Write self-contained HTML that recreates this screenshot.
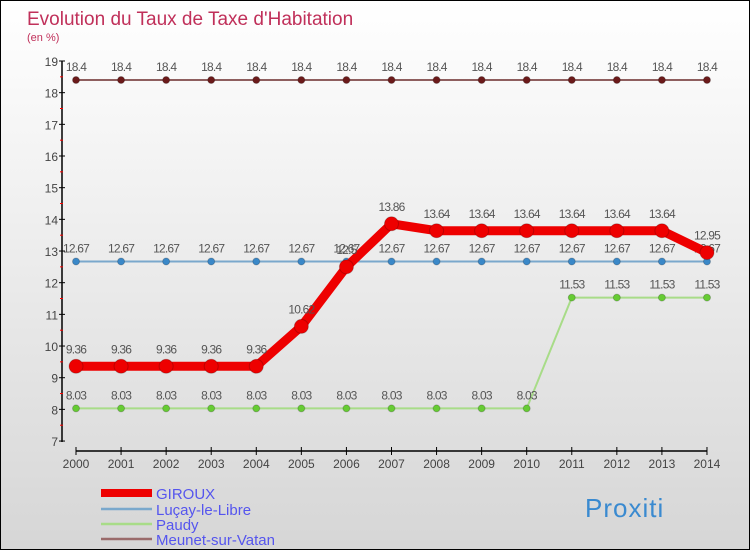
<!DOCTYPE html>
<html><head><meta charset="utf-8"><style>
body{margin:0}
#c{width:748px;height:548px;border:1px solid #000;background:linear-gradient(#fff,#f3f3f3 30%,#d6d6d6);position:relative;font-family:"Liberation Sans",sans-serif}
</style></head><body>
<div id="c">
<svg id="s" width="748" height="548" style="position:absolute;left:0;top:0">
<text x="26" y="24" font-size="19" fill="#c0305a">Evolution du Taux de Taxe d'Habitation</text>
<text x="26" y="40" font-size="11" fill="#c0305a">(en %)</text>
</svg></div>
<script>
const years=[2000,2001,2002,2003,2004,2005,2006,2007,2008,2009,2010,2011,2012,2013,2014];
const giroux=[9.36,9.36,9.36,9.36,9.36,10.62,12.5,13.86,13.64,13.64,13.64,13.64,13.64,13.64,12.95];
const lucay=[12.67,12.67,12.67,12.67,12.67,12.67,12.67,12.67,12.67,12.67,12.67,12.67,12.67,12.67,12.67];
const paudy=[8.03,8.03,8.03,8.03,8.03,8.03,8.03,8.03,8.03,8.03,8.03,11.53,11.53,11.53,11.53];
const meunet=[18.4,18.4,18.4,18.4,18.4,18.4,18.4,18.4,18.4,18.4,18.4,18.4,18.4,18.4,18.4];
const yTicks=[7,8,9,10,11,12,13,14,15,16,17,18,19];
const seriesNames=["GIROUX","Luçay-le-Libre","Paudy","Meunet-sur-Vatan"];
const ns="http://www.w3.org/2000/svg",s=document.getElementById('s');
const X=i=>75+i*45.07, Y=v=>60+(19-v)*31.67;
function mk(t,a,txt){const e=document.createElementNS(ns,t);for(const k in a)e.setAttribute(k,a[k]);if(txt!=null)e.textContent=txt;s.appendChild(e);return e;}
let e=mk('line',{x1:61,y1:60,x2:61,y2:441,stroke:'#000','stroke-width':1.5});

e=mk('line',{x1:75,y1:450,x2:706,y2:450,stroke:'#000','stroke-width':1.5});

yTicks.forEach(v=>{mk('line',{x1:58,y1:Y(v),x2:64,y2:Y(v),stroke:'#000'});
 if(v<19)mk('line',{x1:59,y1:Y(v+0.5),x2:62,y2:Y(v+0.5),stroke:'#f00'});
 e=mk('text',{x:57,y:Y(v)+5,'font-size':12,fill:'#444','text-anchor':'end'},v);
 });
years.forEach((y,i)=>{mk('line',{x1:X(i),y1:446,x2:X(i),y2:454,stroke:'#000'});
 e=mk('text',{x:X(i),y:467,'font-size':12,fill:'#444','text-anchor':'middle'},y);
 });
function series(d,col,w,r,name,fill){
 e=mk('polyline',{points:d.map((v,i)=>X(i)+','+Y(v)).join(' '),fill:'none',stroke:col,'stroke-width':w});
 
 d.forEach((v,i)=>{e=mk('circle',{cx:X(i),cy:Y(v),r:r,fill:fill,stroke:'rgba(0,0,0,0.2)'});
  
  e=mk('text',{x:X(i),y:Y(v)-9-(r>5?4:0),'font-size':12,fill:'#555','text-anchor':'middle','letter-spacing':'-0.8'},v);
  });
}
series(meunet,'#6b2b2b',1.5,3.5,'meunet','#6b1a1a');
series(paudy,'#a8dc88',2,3.5,'paudy','#66cc33');
series(lucay,'#7aa8cc',2,3.5,'lucay','#3a88c8');
series(giroux,'#ee0000',9,7,'giroux','#ee0000');
const lc=['#ee0000','#7aa8cc','#a8dc88','#9a6b6b'],lw=[8,2.5,2.5,2.5],ly=[492,508,523,538];
seriesNames.forEach((n,i)=>{mk('line',{x1:100,y1:ly[i],x2:151,y2:ly[i],stroke:lc[i],'stroke-width':lw[i]});
 e=mk('text',{x:155,y:ly[i]+6,'font-size':15,fill:'#5555ee'},n);
 });
e=mk('text',{x:584,y:516,'font-size':26,fill:'#3a8ad0','letter-spacing':'1'},'Proxiti');

</script></body></html>
